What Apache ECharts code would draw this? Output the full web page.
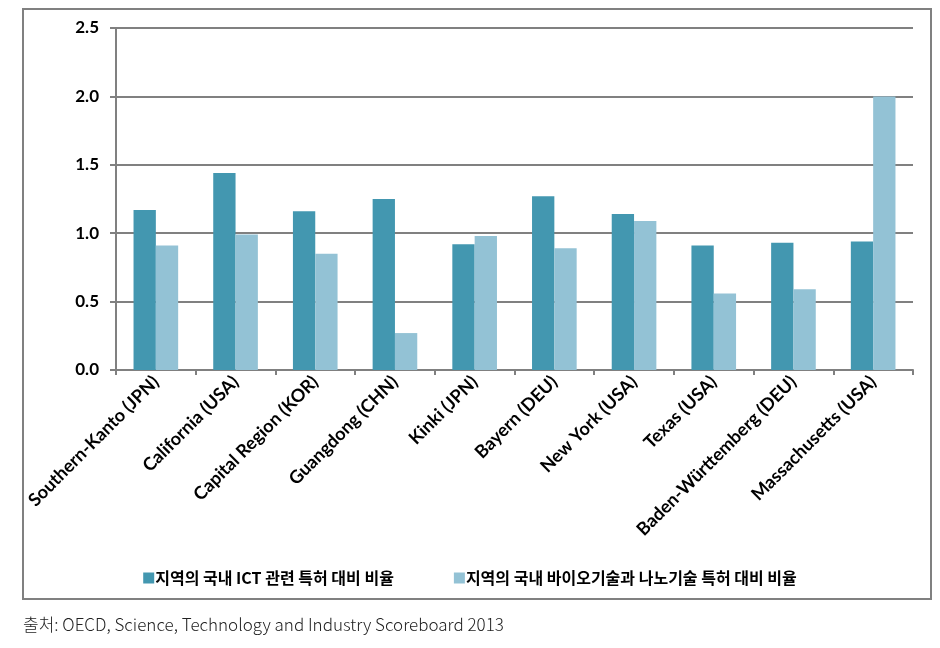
<!DOCTYPE html>
<html><head><meta charset="utf-8">
<script src="https://cdn.jsdelivr.net/npm/echarts@6/dist/echarts.min.js"></script>
<style>html,body{margin:0;padding:0;background:#fff}#c{width:940px;height:648px}</style>
</head><body><div id="c"></div>
<script>
const categories = ["Southern-Kanto (JPN)","California (USA)","Capital Region (KOR)","Guangdong (CHN)","Kinki (JPN)","Bayern (DEU)","New York (USA)","Texas (USA)","Baden-Württemberg (DEU)","Massachusetts (USA)"];
const ictShare = [1.17,1.44,1.16,1.25,0.92,1.27,1.14,0.91,0.93,0.94];
const bioNanoShare = [0.91,0.99,0.85,0.27,0.98,0.89,1.09,0.56,0.59,2.0];
const seriesNames = ["지역의 국내 ICT 관련 특허 대비 비율","지역의 국내 바이오기술과 나노기술 특허 대비 비율"];
const yTicks = {min:0,max:2.5,interval:0.5};
const sourceText = "출처: OECD, Science, Technology and Industry Scoreboard 2013";

const chart = echarts.init(document.getElementById('c'));
const gray = '#808080';
chart.setOption({
  animation:false,
  backgroundColor:'#fff',
  grid:{left:116,right:27,top:28,bottom:278,containLabel:false},
  legend:{
    data:seriesNames, top:565, left:'center', itemWidth:11, itemHeight:11, itemGap:60,
    icon:'rect',
    textStyle:{fontFamily:'"Noto Sans CJK KR"',fontWeight:'bold',fontSize:16,color:'#000',padding:[0,0,0,-4]}
  },
  xAxis:{
    type:'category', data:categories,
    axisLine:{lineStyle:{color:gray,width:2}},
    axisTick:{show:true,length:5,lineStyle:{color:gray,width:2},alignWithLabel:false},
    axisLabel:{rotate:45,margin:9,interval:0,color:'#000',fontFamily:'Lato',fontWeight:'bold',fontSize:18}
  },
  yAxis:{
    type:'value', min:yTicks.min, max:yTicks.max, interval:yTicks.interval,
    axisLine:{show:true,lineStyle:{color:gray,width:2}},
    axisTick:{show:true,length:6,lineStyle:{color:gray,width:2}},
    splitLine:{lineStyle:{color:gray,width:2}},
    axisLabel:{margin:17,color:'#000',fontFamily:'Lato',fontWeight:'bold',fontSize:17,formatter:v=>v.toFixed(1)}
  },
  series:[
    {name:seriesNames[0],type:'bar',data:ictShare,barGap:'0%',barCategoryGap:'44%',itemStyle:{color:'#4397B0'}},
    {name:seriesNames[1],type:'bar',data:bioNanoShare,itemStyle:{color:'#93C2D5'}}
  ],
  graphic:[
    {type:'rect',shape:{x:23,y:9,width:908,height:590},style:{fill:'none',stroke:gray,lineWidth:2},z:-1},
    {type:'text',left:23,top:616,style:{text:sourceText,fontFamily:'"Noto Sans CJK KR"',fontWeight:300,fontSize:17,fill:'#222'}}
  ]
});
</script></body></html>
